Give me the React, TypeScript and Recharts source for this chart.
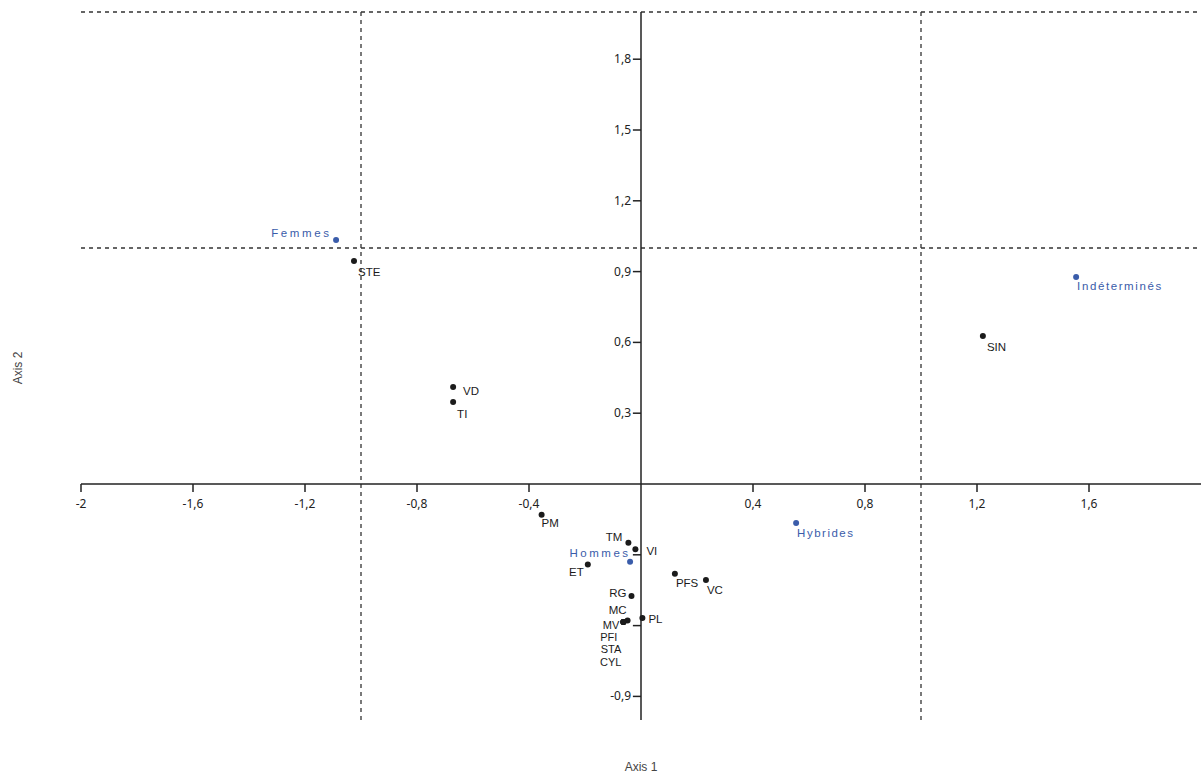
import { ScatterChart, Scatter, XAxis, YAxis, ReferenceLine, ReferenceDot } from "recharts";

// variables (black points)
const varNames = ["STE", "VD", "TI", "SIN", "PM", "TM", "VI", "ET", "PFS", "VC", "RG", "PL", "MC", "MV", "PFI", "STA", "CYL"];
const varX = [-1.025, -0.671, -0.671, 1.221, -0.355, -0.045, -0.02, -0.19, 0.121, 0.232, -0.034, 0.005, -0.048, -0.063, -0.063, -0.063, -0.063];
const varY = [0.945, 0.411, 0.347, 0.627, -0.13, -0.249, -0.276, -0.341, -0.38, -0.407, -0.475, -0.568, -0.578, -0.585, -0.585, -0.585, -0.585];

// groups (blue points)
const groupNames = ["Femmes", "Hommes", "Hybrides", "Indéterminés"];
const groupX = [-1.089, -0.039, 0.554, 1.554];
const groupY = [1.034, -0.329, -0.165, 0.877];

const xTickLabels = [-2, -1.6, -1.2, -0.8, -0.4, 0.4, 0.8, 1.2, 1.6];
const yTickMarks = [-0.9, -0.6, -0.3, 0.3, 0.6, 0.9, 1.2, 1.5, 1.8];
const yTickLabels = [-0.9, 0.3, 0.6, 0.9, 1.2, 1.5, 1.8];
const dashedX = [-1, 1];
const dashedY = [1, 2];

// label placement relative to the point: [dx, dy, anchor, fontSize, letterSpacing]
const labelPos: Record<string, [number, number, "start" | "end", number, number]> = {
  STE: [4, 15, "start", 11.5, 0],
  VD: [10, 8, "start", 11.5, 0],
  TI: [4, 16, "start", 11.5, 0],
  SIN: [4, 15, "start", 11.5, 0],
  PM: [0, 12, "start", 11.5, 0],
  TM: [-6, -2, "end", 11.5, 0],
  VI: [11, 6, "start", 11.5, 0],
  ET: [-4, 12, "end", 11.5, 0],
  PFS: [1, 13, "start", 11.5, 0],
  VC: [1, 14, "start", 11.5, 0],
  RG: [-5, 1, "end", 11.5, 0],
  PL: [6, 5, "start", 11.5, 0],
  MC: [-1, -6, "end", 11.5, 0],
  MV: [-4, 6.5, "end", 11, 0],
  PFI: [-6, 18.9, "end", 11, 0],
  STA: [-2, 31.3, "end", 11, 0],
  CYL: [-2, 43.7, "end", 11, 0],
  Femmes: [-4.5, -3, "end", 11.5, 2.6],
  Hommes: [0.5, -5, "end", 11.5, 2.5],
  Hybrides: [1, 14, "start", 11.5, 1.5],
  Indéterminés: [1, 13, "start", 11.5, 1.6],
};

const varData = varNames.map((name, i) => ({ name, x: varX[i], y: varY[i] }));
const groupData = groupNames.map((name, i) => ({ name, x: groupX[i], y: groupY[i] }));

const FONT = "'Noto Sans', 'Open Sans', sans-serif";
const LABEL_FONT = "'Liberation Sans', Arial, sans-serif";
const BLACK = "#1b1b1b";
const BLUE = "#3a5caa";

const makeShape = (color: string) => (props: any) => {
  const { cx, cy, payload } = props;
  const name: string = payload.name;
  const [dx, dy, anchor, size, spacing] = labelPos[name] || [4, 14, "start", 11.5, 0];
  return (
    <g>
      <circle cx={cx} cy={cy} r={3} fill={color} />
      <text
        x={cx + dx}
        y={cy + dy}
        textAnchor={anchor}
        fontSize={size}
        fontFamily={LABEL_FONT}
        fill={color}
        letterSpacing={spacing}
      >
        {name}
      </text>
    </g>
  );
};

const fmt = (v: number) => String(v).replace(".", ",");

export default function App() {
  return (
    <div style={{ position: "absolute", left: 0, top: 0, width: 1203, height: 776, background: "#fff" }}>
      <ScatterChart width={1203} height={776} margin={{ top: 12, right: 2, bottom: 56, left: 81 }}>
        <XAxis type="number" dataKey="x" domain={[-2, 2]} hide />
        <YAxis type="number" dataKey="y" domain={[-1, 2]} hide />
        {dashedY.map((v) => (
          <ReferenceLine key={"dy" + v} y={v} stroke="#333" strokeWidth={1.3} strokeDasharray="4 4" />
        ))}
        {dashedX.map((v) => (
          <ReferenceLine key={"dx" + v} x={v} stroke="#333" strokeWidth={1.3} strokeDasharray="4 4" />
        ))}
        <ReferenceLine y={0} stroke="#222" strokeWidth={1.5} />
        <ReferenceLine x={0} stroke="#222" strokeWidth={1.5} />
        {xTickLabels.map((t) => (
          <ReferenceLine key={"xt" + t} segment={[{ x: t, y: 0 }, { x: t, y: -0.034 }]} stroke="#222" strokeWidth={1.5} />
        ))}
        {yTickMarks.map((t) => (
          <ReferenceLine key={"yt" + t} segment={[{ x: -0.029, y: t }, { x: 0, y: t }]} stroke="#222" strokeWidth={1.5} />
        ))}
        {xTickLabels.map((t) => (
          <ReferenceDot
            key={"xl" + t}
            x={t}
            y={0}
            r={0}
            shape={(p: any) => (
              <text x={p.cx} y={p.cy + 24} textAnchor="middle" fontSize={12} fontFamily={FONT} fill="#222">
                {fmt(t)}
              </text>
            )}
          />
        ))}
        {yTickLabels.map((t) => (
          <ReferenceDot
            key={"yl" + t}
            x={0}
            y={t}
            r={0}
            shape={(p: any) => (
              <text x={p.cx - 10} y={p.cy + 4} textAnchor="end" fontSize={12} fontFamily={FONT} fill="#222">
                {fmt(t)}
              </text>
            )}
          />
        ))}
        <Scatter data={varData} fill={BLACK} shape={makeShape(BLACK)} isAnimationActive={false} />
        <Scatter data={groupData} fill={BLUE} shape={makeShape(BLUE)} isAnimationActive={false} />
      </ScatterChart>
      <div
        style={{
          position: "absolute",
          left: 641,
          top: 760,
          transform: "translateX(-50%)",
          fontFamily: "'Liberation Sans', Arial, sans-serif",
          fontSize: 12,
          color: "#444",
          whiteSpace: "nowrap",
        }}
      >
        Axis 1
      </div>
      <div
        style={{
          position: "absolute",
          left: 18,
          top: 368,
          transform: "translate(-50%, -50%) rotate(-90deg)",
          fontFamily: "'Liberation Sans', Arial, sans-serif",
          fontSize: 12,
          color: "#444",
          whiteSpace: "nowrap",
        }}
      >
        Axis 2
      </div>
    </div>
  );
}
